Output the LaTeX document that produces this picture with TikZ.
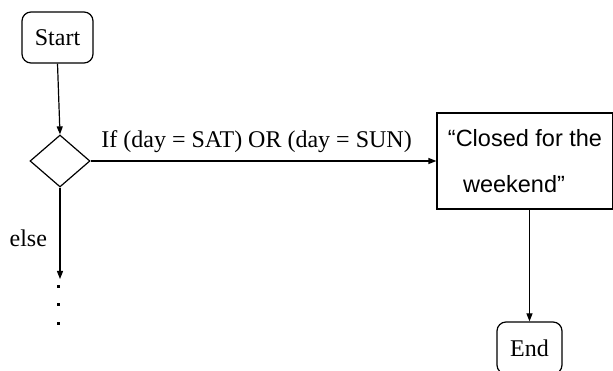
\documentclass[tikz,border=0pt]{standalone}
\usepackage{fontspec}
\setmainfont{Liberation Serif}
\newfontfamily\boxfont{Liberation Sans}
\usetikzlibrary{shapes.geometric,arrows.meta}
\begin{document}
\begin{tikzpicture}[x=1pt,y=-1pt,
  line width=1.2pt,
  every node/.style={font=\fontsize{24}{28}\selectfont},
  term/.style={draw,rounded corners=9pt,minimum width=71pt,inner sep=0pt},
  decision/.style={draw,diamond,minimum width=60pt,minimum height=52pt,inner sep=0pt},
  procbox/.style={draw,rectangle,minimum width=176pt,minimum height=96pt,inner sep=0pt,align=center,font=\boxfont\fontsize{23.5}{46}\selectfont},
  flow/.style={-{Triangle[length=8pt,width=6pt]}},
  lbl/.style={inner sep=0pt}
]
\useasboundingbox (0,0) rectangle (613,371);
\clip (0,0) rectangle (613,371);
\node[term,minimum height=51pt] (start) at (57.5,37.5) {Start};
\node[decision] (dec) at (60,161) {};
\node[procbox] (box) at (525,161) {“Closed for the\\weekend”\hspace*{22pt}};
\node[term,minimum height=52pt,minimum width=65pt] (end) at (529.5,348) {End};
\coordinate (elseend) at (60,279);
\draw[flow] (start.south) -- (dec.north);
\draw[flow] (dec.east) -- node[above,inner sep=7.5pt,pos=0.48] (cond) {If (day = SAT) OR (day = SUN)} (box.west);
\draw[flow] (dec.south) -- (elseend);
\node[anchor=base west,lbl] (else) at (9,247) {else};
\draw[flow] (box.south -| end.north) -- (end.north);
\foreach \yy in {287,305,323} \fill (56.5,\yy-1.5) rectangle (59.5,\yy+1.5);
\end{tikzpicture}
\end{document}
